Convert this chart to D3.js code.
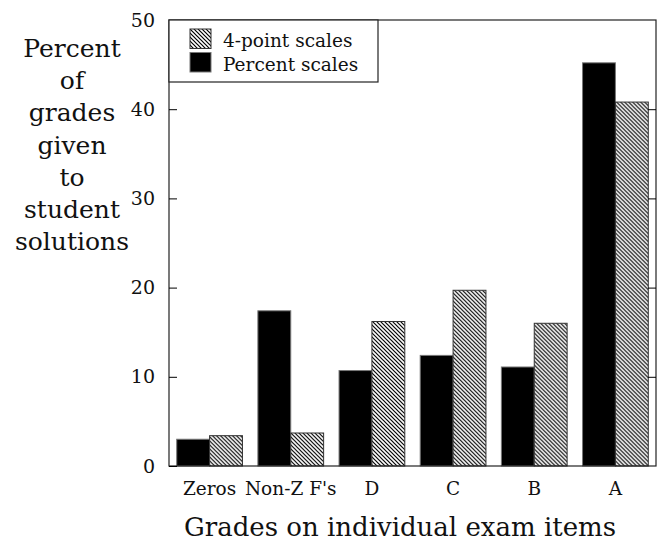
<!DOCTYPE html>
<html>
<head>
<meta charset="utf-8">
<script src="https://cdn.jsdelivr.net/npm/d3@7"></script>
<style>
  body { margin: 0; background: #fff; }
  text { font-family: "DejaVu Serif", "Liberation Serif", serif; fill: #111; }
</style>
</head>
<body>
<svg id="chart"></svg>
<script>
const categories      = ["Zeros", "Non-Z F's", "D", "C", "B", "A"];
const percentScales   = [3.0, 17.4, 10.7, 12.4, 11.1, 45.2];
const fourPointScales = [3.4, 3.7, 16.2, 19.7, 16.0, 40.8];
const yTicks          = [0, 10, 20, 30, 40, 50];
const yTitleLines     = ["Percent", "of", "grades", "given", "to", "student", "solutions"];
const xTitle          = "Grades on individual exam items";
const legendLabels    = ["4-point scales", "Percent scales"];

const width = 660, height = 544;
const margin = { top: 20, right: 4, bottom: 78, left: 169 };
const innerW = width - margin.left - margin.right;
const innerH = height - margin.top - margin.bottom;

const svg = d3.select("#chart")
  .attr("width", width)
  .attr("height", height);

// diagonal hatch fill
const pat = svg.append("defs").append("pattern")
  .attr("id", "hatch")
  .attr("patternUnits", "userSpaceOnUse")
  .attr("width", 4)
  .attr("height", 4);
pat.append("rect").attr("width", 4).attr("height", 4).attr("fill", "#fff");
pat.append("path")
  .attr("d", "M-1,-1 L5,5 M-1,3 L1,5 M3,-1 L5,1")
  .attr("stroke", "#000")
  .attr("stroke-width", 1.2);

const g = svg.append("g")
  .attr("transform", `translate(${margin.left},${margin.top})`);

const x = d3.scaleBand()
  .domain(categories)
  .range([0, innerW])
  .paddingInner(0.19)
  .paddingOuter(0.095);

const xSub = d3.scaleBand()
  .domain(["pct", "four"])
  .range([0, x.bandwidth()]);

const y = d3.scaleLinear()
  .domain([0, 50])
  .range([innerH, 0]);

const rows = categories.map((c, i) => ({
  cat: c, pct: percentScales[i], four: fourPointScales[i]
}));

// bars
const groups = g.selectAll(".grp")
  .data(rows)
  .join("g")
  .attr("class", "grp")
  .attr("transform", d => `translate(${x(d.cat)},0)`);

groups.append("rect")
  .attr("x", xSub("pct"))
  .attr("y", d => y(d.pct))
  .attr("width", xSub.bandwidth())
  .attr("height", d => y(0) - y(d.pct))
  .attr("fill", "#000")
  .attr("stroke", "#777")
  .attr("stroke-width", 1);

groups.append("rect")
  .attr("x", xSub("four"))
  .attr("y", d => y(d.four))
  .attr("width", xSub.bandwidth())
  .attr("height", d => y(0) - y(d.four))
  .attr("fill", "url(#hatch)")
  .attr("stroke", "#333")
  .attr("stroke-width", 1);

// frame
g.append("rect")
  .attr("width", innerW)
  .attr("height", innerH)
  .attr("fill", "none")
  .attr("stroke", "#222")
  .attr("stroke-width", 1.2);

// left axis, ticks pointing in
const yAxis = d3.axisLeft(y).tickValues(yTicks).tickSize(-8).tickPadding(14);
g.append("g")
  .call(yAxis)
  .call(a => a.select(".domain").remove())
  .call(a => a.selectAll("text")
    .style("font-size", "19px")
    .style("font-family", "\"DejaVu Serif\", serif"));

// right axis ticks
g.append("g")
  .attr("transform", `translate(${innerW},0)`)
  .call(d3.axisRight(y).tickValues(yTicks.slice(1, -1)).tickSize(-8).tickFormat(""))
  .call(a => a.select(".domain").remove());

// x labels
const xAxis = d3.axisBottom(x).tickSize(0).tickPadding(16);
g.append("g")
  .attr("transform", `translate(0,${innerH})`)
  .call(xAxis)
  .call(a => a.select(".domain").remove())
  .call(a => a.selectAll("text")
    .style("font-size", "18.5px")
    .style("font-family", "\"DejaVu Serif\", serif"));

// legend
const lg = g.append("g");
lg.append("rect")
  .attr("x", 0).attr("y", 0)
  .attr("width", 209).attr("height", 62)
  .attr("fill", "#fff")
  .attr("stroke", "#222")
  .attr("stroke-width", 1.2);
const fills = ["url(#hatch)", "#000"];
legendLabels.forEach((lab, i) => {
  lg.append("rect")
    .attr("x", 21).attr("y", 9 + i * 23.5)
    .attr("width", 21).attr("height", 19.5)
    .attr("fill", fills[i])
    .attr("stroke", i === 0 ? "#333" : "#777");
  lg.append("text")
    .attr("x", 54).attr("y", 27 + i * 24)
    .style("font-size", "18.5px")
    .text(lab);
});

// y title
svg.append("text")
  .attr("x", 72)
  .attr("text-anchor", "middle")
  .style("font-size", "25px")
  .selectAll("tspan")
  .data(yTitleLines)
  .join("tspan")
  .attr("x", 72)
  .attr("y", (d, i) => 57 + i * 32.2)
  .text(d => d);

// x title
svg.append("text")
  .attr("x", 400)
  .attr("y", 536)
  .attr("text-anchor", "middle")
  .style("font-size", "26px")
  .text(xTitle);
</script>
</body>
</html>
